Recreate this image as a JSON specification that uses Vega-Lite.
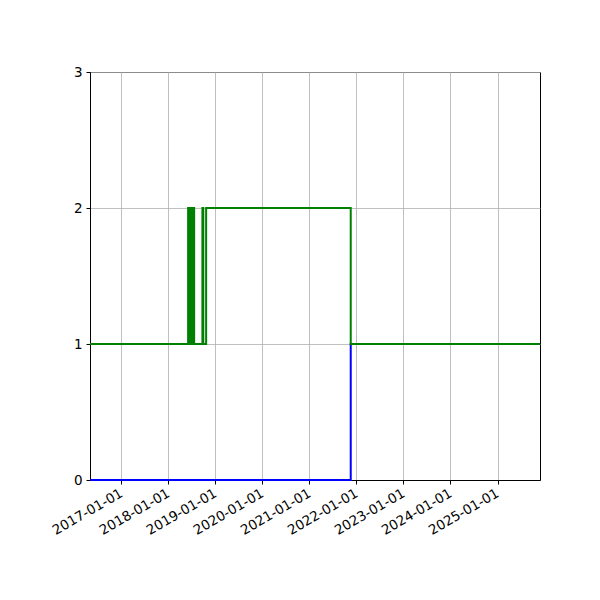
{
  "$schema": "https://vega.github.io/schema/vega-lite/v6.json",
  "width": 450,
  "height": 408,
  "autosize": "none",
  "padding": {"left": 90, "top": 72, "right": 60, "bottom": 120},
  "background": "white",
  "config": {
    "view": {"stroke": "black", "strokeWidth": 1},
    "font": "DejaVu Sans",
    "axis": {
      "labelFont": "DejaVu Sans",
      "labelFontSize": 13.5,
      "labelColor": "black",
      "domainColor": "black",
      "tickColor": "black",
      "tickSize": 4,
      "gridColor": "#b0b0b0",
      "gridWidth": 0.8,
      "title": null
    }
  },
  "datasets": {
    "series": [
      {"date": "2016-05-03", "value": 0, "series": "blue"},
      {"date": "2021-11-18", "value": 1, "series": "blue"},
      {"date": "2025-11-27", "value": 1, "series": "blue"},
      {"date": "2016-05-03", "value": 1, "series": "green"},
      {"date": "2018-06-04", "value": 2, "series": "green"},
      {"date": "2018-06-06", "value": 1, "series": "green"},
      {"date": "2018-06-08", "value": 2, "series": "green"},
      {"date": "2018-06-10", "value": 1, "series": "green"},
      {"date": "2018-06-12", "value": 2, "series": "green"},
      {"date": "2018-06-14", "value": 1, "series": "green"},
      {"date": "2018-06-16", "value": 2, "series": "green"},
      {"date": "2018-06-18", "value": 1, "series": "green"},
      {"date": "2018-06-20", "value": 2, "series": "green"},
      {"date": "2018-06-22", "value": 1, "series": "green"},
      {"date": "2018-06-24", "value": 2, "series": "green"},
      {"date": "2018-06-26", "value": 1, "series": "green"},
      {"date": "2018-06-28", "value": 2, "series": "green"},
      {"date": "2018-06-30", "value": 1, "series": "green"},
      {"date": "2018-07-02", "value": 2, "series": "green"},
      {"date": "2018-07-04", "value": 1, "series": "green"},
      {"date": "2018-07-06", "value": 2, "series": "green"},
      {"date": "2018-07-08", "value": 1, "series": "green"},
      {"date": "2018-07-10", "value": 2, "series": "green"},
      {"date": "2018-07-12", "value": 1, "series": "green"},
      {"date": "2018-07-14", "value": 2, "series": "green"},
      {"date": "2018-07-16", "value": 1, "series": "green"},
      {"date": "2018-07-18", "value": 2, "series": "green"},
      {"date": "2018-07-21", "value": 1, "series": "green"},
      {"date": "2018-09-23", "value": 2, "series": "green"},
      {"date": "2018-09-30", "value": 1, "series": "green"},
      {"date": "2018-10-22", "value": 2, "series": "green"},
      {"date": "2021-11-18", "value": 1, "series": "green"},
      {"date": "2025-11-27", "value": 1, "series": "green"}
    ]
  },
  "data": {"name": "series"},
  "encoding": {
    "x": {
      "field": "date",
      "type": "temporal",
      "scale": {
        "type": "utc",
        "domain": [
          {"year": 2016, "month": 5, "date": 3, "utc": true},
          {"year": 2025, "month": 11, "date": 27, "utc": true}
        ]
      },
      "axis": {
        "values": [
          {"year": 2017, "month": 1, "date": 1, "utc": true},
          {"year": 2018, "month": 1, "date": 1, "utc": true},
          {"year": 2019, "month": 1, "date": 1, "utc": true},
          {"year": 2020, "month": 1, "date": 1, "utc": true},
          {"year": 2021, "month": 1, "date": 1, "utc": true},
          {"year": 2022, "month": 1, "date": 1, "utc": true},
          {"year": 2023, "month": 1, "date": 1, "utc": true},
          {"year": 2024, "month": 1, "date": 1, "utc": true},
          {"year": 2025, "month": 1, "date": 1, "utc": true}
        ],
        "labelExpr": "utcFormat(datum.value, '%Y-%m-%d')",
        "labelAngle": -30,
        "labelAlign": "right",
        "labelBaseline": "middle",
        "labelPadding": 8,
        "labelOverlap": false,
        "grid": true
      }
    },
    "y": {
      "field": "value",
      "type": "quantitative",
      "scale": {"domain": [0, 3], "nice": false},
      "axis": {"values": [0, 1, 2, 3], "grid": true, "labelPadding": 4}
    },
    "order": {"field": "date", "type": "temporal"}
  },
  "layer": [
    {
      "transform": [{"filter": "datum.series == 'blue'"}],
      "mark": {"type": "line", "interpolate": "step-after", "strokeWidth": 2, "clip": false, "color": "#0000ff"}
    },
    {
      "transform": [{"filter": "datum.series == 'green'"}],
      "mark": {"type": "line", "interpolate": "step-after", "strokeWidth": 2, "clip": false, "color": "#008000"}
    }
  ]
}
